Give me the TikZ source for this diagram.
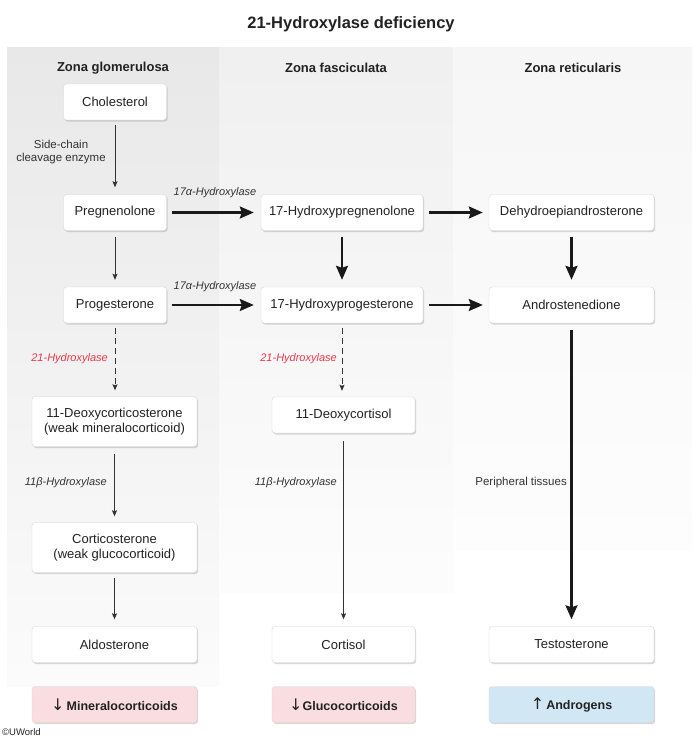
\documentclass[tikz,border=0pt]{standalone}
\usepackage{fontspec}
\setmainfont{Liberation Sans}
\newfontfamily\arrfont{DejaVu Sans}
\usetikzlibrary{arrows.meta,shadows}
\definecolor{txt}{HTML}{222222}
\definecolor{lbl}{HTML}{333333}
\definecolor{redlbl}{HTML}{E8394D}
\definecolor{pinkbox}{HTML}{FADDE1}
\definecolor{bluebox}{HTML}{D1E7F4}
\begin{document}
\begin{tikzpicture}[x=1pt,y=-1pt,
  box/.style={draw=black!16, line width=0.4pt, fill=white, rounded corners=3pt,
    minimum height=36pt, inner sep=2pt, text=txt, align=center,
    font=\fontsize{13}{15.5}\selectfont,
    drop shadow={shadow xshift=1.2pt, shadow yshift=-1.5pt, opacity=0.3}},
  tall/.style={minimum height=50pt},
  wA/.style={minimum width=103pt},
  wB/.style={minimum width=162pt},
  wC/.style={minimum width=165pt},
  wD/.style={minimum width=143pt},
  resbox/.style={box, font=\bfseries\fontsize{12.5}{15}\selectfont},
  hdr/.style={font=\bfseries\fontsize{13}{15}\selectfont, text=txt},
  enz/.style={font=\itshape\fontsize{11}{13}\selectfont, text=lbl, inner sep=0pt},
  enzred/.style={enz, text=redlbl},
  plain/.style={font=\fontsize{11.5}{13}\selectfont, text=lbl, inner sep=0pt, align=center},
  thickarr/.style={line width=2.2pt, black!90, -{Stealth[length=14pt,width=12pt,inset=2pt]}},
  thinarr/.style={line width=0.9pt, black!80, -{Stealth[length=6pt,width=5pt,inset=1pt]}},
  dasharr/.style={thinarr, dash pattern=on 6pt off 4pt}
]
\useasboundingbox (0,0) rectangle (700,739);
\fill[white] (0,0) rectangle (700,739);
% column backgrounds
\shade[top color=black!9, bottom color=black!1.5] (7,47) rectangle (219,686);
\shade[top color=black!6, bottom color=black!1] (219,47) rectangle (453,592);
\shade[top color=black!3.5, bottom color=black!0.8] (453,47) rectangle (692,550);

% title and headers
\node[font=\bfseries\fontsize{16.5}{19}\selectfont, text=txt] (title) at (351,24) {21-Hydroxylase deficiency};
\node[hdr] (hd1) at (113,68) {Zona glomerulosa};
\node[hdr] (hd2) at (336,68) {Zona fasciculata};
\node[hdr] (hd3) at (573,68) {Zona reticularis};

% boxes
\node[box, wA] (chol) at (115,102) {Cholesterol};
\node[box, wA] (preg) at (115,212.5) {Pregnenolone};
\node[box, wA] (prog) at (115,305) {Progesterone};
\node[box, wB] (ohpreg) at (342,212.5) {17-Hydroxypregnenolone};
\node[box, wB] (ohprog) at (342,305) {17-Hydroxyprogesterone};
\node[box, wC] (dhea) at (571.5,212.5) {Dehydroepiandrosterone};
\node[box, wC] (andro) at (571.5,305) {Androstenedione};
\node[box, wC, tall] (doc) at (114.5,421.5) {11-Deoxycorticosterone\\(weak mineralocorticoid)};
\node[box, wD] (dcort) at (343.5,415) {11-Deoxycortisol};
\node[box, wC, tall] (cortico) at (114.5,547.5) {Corticosterone\\(weak glucocorticoid)};
\node[box, wC] (aldo) at (114.5,644.5) {Aldosterone};
\node[box, wD] (cortisol) at (343.5,644.5) {Cortisol};
\node[box, wC] (testo) at (571.5,644.5) {Testosterone};
\node[resbox, wC, fill=pinkbox] (mineral) at (114.5,704.5) {{\arrfont\mdseries\fontsize{16}{16}\selectfont ↓}\,Mineralocorticoids};
\node[resbox, wD, fill=pinkbox] (gluco) at (343.5,704.5) {{\arrfont\mdseries\fontsize{16}{16}\selectfont ↓}Glucocorticoids};
\node[resbox, wC, fill=bluebox] (andg) at (571.5,704.5) {{\arrfont\mdseries\fontsize{16}{16}\selectfont ↑}\,Androgens};

% connectors
\draw[thinarr, shorten <=5pt, shorten >=7pt] (chol) -- (preg);
\draw[thinarr, shorten <=6pt, shorten >=7pt] (preg) -- (prog);
\draw[thickarr, shorten <=5pt, shorten >=7pt] (preg) -- (ohpreg);
\draw[thickarr, shorten <=6pt, shorten >=6pt] (ohpreg) -- (dhea);
\draw[thickarr, shorten <=6pt, shorten >=7pt] (ohpreg) -- (ohprog);
\draw[thickarr, shorten <=6pt, shorten >=7pt] (dhea) -- (andro);
\draw[thickarr, shorten <=5pt, shorten >=7pt] (prog) -- (ohprog);
\draw[thickarr, shorten <=6pt, shorten >=6pt] (ohprog) -- (andro);
\draw[dasharr, shorten <=5pt, shorten >=6pt] (prog) -- (prog |- doc.north);
\draw[dasharr, shorten <=5pt, shorten >=6pt] (ohprog.south) -- (ohprog.south |- dcort.north);
\draw[thinarr, shorten <=7pt, shorten >=6pt] (doc) -- (cortico);
\draw[thinarr, shorten <=8pt, shorten >=7pt] (dcort) -- (cortisol);
\draw[thinarr, shorten <=5pt, shorten >=7pt] (cortico) -- (aldo);
\draw[thickarr, shorten <=7pt, shorten >=7pt] (andro) -- (testo);

% enzyme labels
\node[plain] (scc) at (61,152.5) {Side-chain\\cleavage enzyme};
\node[enz] (h17a) at (215,193) {17α-Hydroxylase};
\node[enz] (h17b) at (215,287) {17α-Hydroxylase};
\node[enzred, anchor=east] (h21a) at (108,359) {21-Hydroxylase};
\node[enzred, anchor=east] (h21b) at (337,359) {21-Hydroxylase};
\node[enz, anchor=east] (h11a) at (107,483) {11β-Hydroxylase};
\node[enz, anchor=east] (h11b) at (337,483) {11β-Hydroxylase};
\node[plain, anchor=east] (periph) at (567,483) {Peripheral tissues};

\node[anchor=west, inner sep=0pt, font=\fontsize{9.5}{11}\selectfont, text=txt] (copy) at (2,732) {©UWorld};
\end{tikzpicture}
\end{document}
